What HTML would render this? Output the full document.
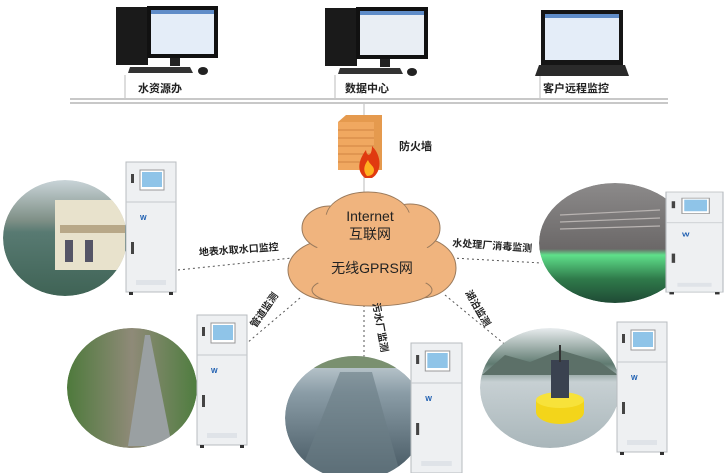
<!DOCTYPE html>
<html><head><meta charset="utf-8"><style>
html,body{margin:0;padding:0;background:#fff;}
svg{display:block;}
text{font-family:"Liberation Sans","Noto Sans CJK SC",sans-serif;}
</style></head><body>
<svg width="728" height="473" viewBox="0 0 728 473" xmlns="http://www.w3.org/2000/svg">
<defs>
<g id="cab">
 <rect x="0" y="0" width="50" height="130" fill="#eef0f2" stroke="#b8bcc0" stroke-width="1"/>
 <line x1="0" y1="40" x2="50" y2="40" stroke="#c4c8cc"/>
 <rect x="14" y="8" width="24" height="20" fill="#fff" stroke="#999"/>
 <rect x="16" y="10" width="20" height="15" fill="#8fc4e8"/>
 <rect x="5" y="12" width="3" height="9" fill="#444"/>
 <rect x="5" y="80" width="3" height="12" fill="#444"/>
 <text x="14" y="58" font-size="7" fill="#1a5cb0" font-weight="bold">W</text>
 <rect x="10" y="118" width="30" height="5" fill="#dfe3e8"/>
 <rect x="3" y="130" width="4" height="3" fill="#333"/><rect x="43" y="130" width="4" height="3" fill="#333"/>
</g>
<clipPath id="c1"><ellipse cx="65" cy="238" rx="62" ry="58"/></clipPath>
<clipPath id="c2"><ellipse cx="615" cy="243" rx="76" ry="60"/></clipPath>
<clipPath id="c3"><ellipse cx="132" cy="388" rx="65" ry="60"/></clipPath>
<clipPath id="c4"><ellipse cx="355" cy="418" rx="70" ry="62"/></clipPath>
<clipPath id="c5"><ellipse cx="550" cy="388" rx="70" ry="60"/></clipPath>
<linearGradient id="sky" x1="0" y1="0" x2="0" y2="1"><stop offset="0" stop-color="#c9d4d8"/><stop offset="0.35" stop-color="#7e8f86"/><stop offset="0.45" stop-color="#587a72"/><stop offset="1" stop-color="#3f6355"/></linearGradient>
<linearGradient id="uv" x1="0" y1="0" x2="0" y2="1"><stop offset="0" stop-color="#8c8a8a"/><stop offset="0.55" stop-color="#6b6868"/><stop offset="0.6" stop-color="#5fe08a"/><stop offset="0.8" stop-color="#2f7a4a"/><stop offset="1" stop-color="#1f4a35"/></linearGradient>
<linearGradient id="lake" x1="0" y1="0" x2="0" y2="1"><stop offset="0" stop-color="#e8ecee"/><stop offset="0.3" stop-color="#5f7a70"/><stop offset="0.45" stop-color="#c7d0d3"/><stop offset="1" stop-color="#a9b6ba"/></linearGradient>
<linearGradient id="grn" x1="0" y1="0" x2="1" y2="0"><stop offset="0" stop-color="#4e7a3c"/><stop offset="0.5" stop-color="#8f8a78"/><stop offset="1" stop-color="#4f7d3f"/></linearGradient>
<linearGradient id="sew" x1="0" y1="0" x2="0" y2="1"><stop offset="0" stop-color="#c8d3d8"/><stop offset="0.3" stop-color="#8a9ca6"/><stop offset="1" stop-color="#42545e"/></linearGradient>
</defs>

<rect x="70" y="98" width="598" height="2" fill="#c8c8c8"/>
<rect x="70" y="102" width="598" height="2" fill="#c8c8c8"/>
<line x1="125" y1="75" x2="125" y2="98" stroke="#bbb"/>
<line x1="335" y1="75" x2="335" y2="98" stroke="#bbb"/>
<line x1="540" y1="75" x2="540" y2="98" stroke="#bbb"/>
<line x1="364" y1="104" x2="364" y2="200" stroke="#bbb"/>

<g>
 <rect x="116" y="7" width="32" height="58" fill="#1a1a1a"/>
 <rect x="147" y="6" width="71" height="52" fill="#111"/>
 <rect x="151" y="10" width="63" height="44" fill="#e4edf8"/>
 <rect x="151" y="10" width="63" height="4" fill="#5f8cc8"/>
 <rect x="170" y="58" width="10" height="8" fill="#222"/>
 <polygon points="130,67 190,67 193,73 128,73" fill="#333"/>
 <ellipse cx="203" cy="71" rx="5" ry="4" fill="#222"/>
 <text x="160" y="92" font-size="11" text-anchor="middle" fill="#222" font-weight="bold">水资源办</text>
</g>
<g>
 <rect x="325" y="8" width="32" height="58" fill="#1a1a1a"/>
 <rect x="356" y="7" width="72" height="52" fill="#111"/>
 <rect x="360" y="11" width="64" height="44" fill="#e9eef4"/>
 <rect x="360" y="11" width="64" height="4" fill="#5f8cc8"/>
 <rect x="380" y="59" width="10" height="8" fill="#222"/>
 <polygon points="340,68 400,68 403,74 338,74" fill="#333"/>
 <ellipse cx="412" cy="72" rx="5" ry="4" fill="#222"/>
 <text x="367" y="92" font-size="11" text-anchor="middle" fill="#222" font-weight="bold">数据中心</text>
</g>
<g>
 <rect x="541" y="10" width="82" height="55" fill="#151515"/>
 <rect x="545" y="14" width="74" height="46" fill="#e4edf8"/>
 <rect x="545" y="14" width="74" height="4" fill="#5f8cc8"/>
 <polygon points="539,65 625,65 629,76 535,76" fill="#2a2a2a"/>
 <text x="576" y="92" font-size="11" text-anchor="middle" fill="#222" font-weight="bold">客户远程监控</text>
</g>

<polygon points="338,122 346,115 382,115 382,170 338,170" fill="#e59a4e"/>
<rect x="338" y="122" width="36" height="48" fill="#f0a860"/>
<g stroke="#c47a38" stroke-width="0.8">
 <line x1="338" y1="130" x2="374" y2="130"/><line x1="338" y1="138" x2="374" y2="138"/><line x1="338" y1="146" x2="374" y2="146"/><line x1="338" y1="154" x2="374" y2="154"/><line x1="338" y1="162" x2="374" y2="162"/>
</g>
<path d="M365,178 C355,170 360,158 366,150 C367,158 372,156 372,146 C382,156 382,172 372,178 Z" fill="#e03a10"/>
<path d="M367,176 C362,170 365,164 368,160 C370,165 374,166 374,170 C374,174 371,176 367,176Z" fill="#ffb020"/>
<text x="399" y="150" font-size="11" fill="#222" font-weight="bold">防火墙</text>

<g stroke="#555" stroke-width="1" stroke-dasharray="2,3" fill="none">
 <line x1="178" y1="270" x2="292" y2="258"/>
 <line x1="452" y1="258" x2="542" y2="263"/>
 <line x1="300" y1="298" x2="247" y2="343"/>
 <line x1="364" y1="300" x2="364" y2="358"/>
 <line x1="445" y1="295" x2="508" y2="347"/>
</g>

<g fill="#f0b47e" stroke="#9a7a5c" stroke-width="1">
 <ellipse cx="330" cy="270" rx="42" ry="30"/>
 <ellipse cx="420" cy="268" rx="36" ry="30"/>
 <ellipse cx="372" cy="290" rx="60" ry="16"/>
 <ellipse cx="330" cy="228" rx="28" ry="22"/>
 <ellipse cx="410" cy="228" rx="30" ry="24"/>
 <ellipse cx="368" cy="218" rx="42" ry="26"/>
</g>
<g fill="#f0b47e">
 <ellipse cx="372" cy="265" rx="70" ry="28"/>
 <ellipse cx="370" cy="228" rx="55" ry="22"/>
 <ellipse cx="372" cy="290" rx="58" ry="14"/>
</g>
<text x="370" y="221" font-size="14" text-anchor="middle" fill="#222">Internet</text>
<text x="370" y="239" font-size="14" text-anchor="middle" fill="#222">互联网</text>
<text x="372" y="273" font-size="14" text-anchor="middle" fill="#222">无线GPRS网</text>

<text x="239" y="253" font-size="10" text-anchor="middle" fill="#222" font-weight="bold" transform="rotate(-4 239 253)">地表水取水口监控</text>
<text x="492" y="249" font-size="10" text-anchor="middle" fill="#222" font-weight="bold" transform="rotate(4 492 249)">水处理厂消毒监测</text>
<text x="267" y="312" font-size="10" text-anchor="middle" fill="#222" font-weight="bold" transform="rotate(-55 267 312)">管道监测</text>
<text x="377" y="328" font-size="10" text-anchor="middle" fill="#222" font-weight="bold" transform="rotate(80 377 328)">污水厂监测</text>
<text x="475" y="310" font-size="10" text-anchor="middle" fill="#222" font-weight="bold" transform="rotate(60 475 310)">湖泊监测</text>

<g clip-path="url(#c1)">
 <ellipse cx="65" cy="238" rx="62" ry="58" fill="url(#sky)"/>
 <rect x="55" y="200" width="70" height="70" fill="#e8e2cc"/>
 <rect x="60" y="225" width="65" height="8" fill="#b8a888"/>
 <rect x="65" y="240" width="8" height="22" fill="#556"/>
 <rect x="85" y="240" width="8" height="22" fill="#556"/>
</g>
<g clip-path="url(#c2)">
 <ellipse cx="615" cy="243" rx="76" ry="60" fill="url(#uv)"/>
 <g stroke="#b9b4b2" stroke-width="1.2">
  <line x1="560" y1="215" x2="660" y2="210"/><line x1="560" y1="222" x2="660" y2="218"/><line x1="560" y1="229" x2="660" y2="226"/>
 </g>
</g>
<g clip-path="url(#c3)">
 <ellipse cx="132" cy="388" rx="65" ry="60" fill="url(#grn)"/>
 <polygon points="145,335 150,335 172,446 128,446" fill="#9aa0a2"/>
</g>
<g clip-path="url(#c4)">
 <ellipse cx="355" cy="418" rx="70" ry="62" fill="url(#sew)"/>
 <rect x="280" y="356" width="140" height="12" fill="#7a9070"/>
 <polygon points="340,372 372,372 400,473 300,473" fill="#6b7d86" opacity="0.6"/>
</g>
<g clip-path="url(#c5)">
 <ellipse cx="550" cy="388" rx="70" ry="60" fill="url(#lake)"/>
 <polygon points="482,375 505,355 530,362 560,350 600,362 618,375" fill="#5c7068"/>
</g>
<ellipse cx="560" cy="412" rx="24" ry="12" fill="#f3d51a"/>
<rect x="536" y="400" width="48" height="12" fill="#f3d51a"/>
<ellipse cx="560" cy="400" rx="24" ry="8" fill="#f7e23a"/>
<rect x="551" y="360" width="18" height="38" fill="#3a4250"/>
<line x1="560" y1="345" x2="560" y2="362" stroke="#333" stroke-width="2"/>

<use href="#cab" transform="translate(126,162)"/>
<use href="#cab" transform="translate(666,192) scale(1.14,0.77)"/>
<use href="#cab" transform="translate(197,315)"/>
<use href="#cab" transform="translate(411,343) scale(1.02,1)"/>
<use href="#cab" transform="translate(617,322)"/>
</svg>
</body></html>
